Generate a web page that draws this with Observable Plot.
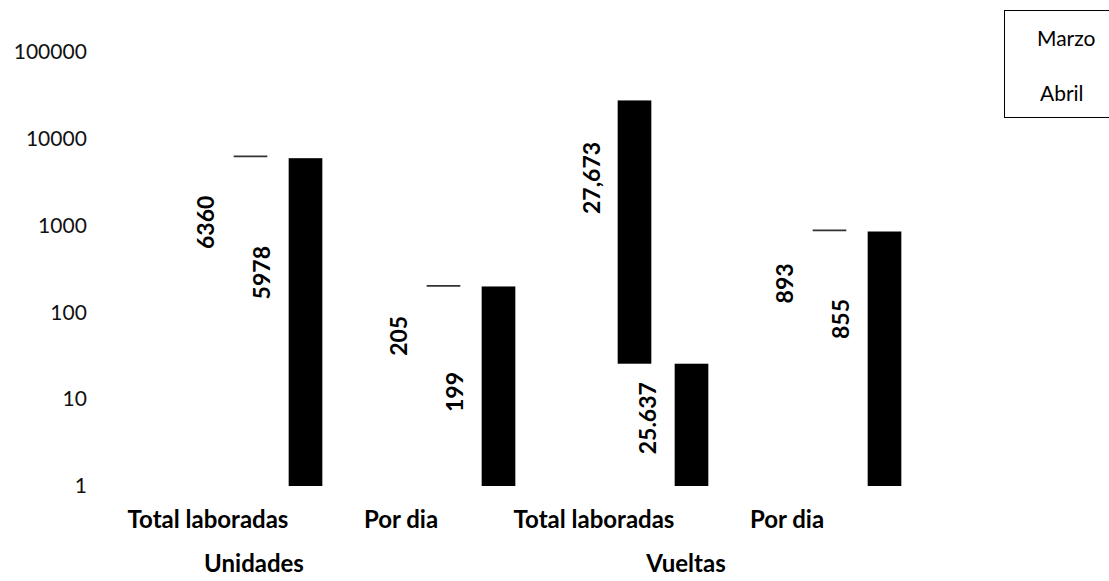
<!DOCTYPE html>
<html>
<head>
<meta charset="utf-8">
<script src="https://cdn.jsdelivr.net/npm/d3@7"></script>
<script src="https://cdn.jsdelivr.net/npm/@observablehq/plot@0.6"></script>
<style>
  html, body { margin: 0; padding: 0; background: #fff; }
  #wrap { position: relative; width: 1109px; height: 581px; overflow: hidden; font-family: Lato, "Open Sans", sans-serif; }
  #legend { position: absolute; left: 1004px; top: 10px; width: 130px; height: 108px;
            border: 1.5px solid #000; border-right: none; box-sizing: border-box; }
  #legend span { position: absolute; font-size: 21px; color: #000; line-height: 1; }
</style>
</head>
<body>
<div id="wrap">
  <div id="chart"></div>
  <div id="legend"><span id="lgM" style="left:32px;top:16px">Marzo</span><span id="lgA" style="left:35px;top:71px">Abril</span></div>
</div>
<script>
// ---- Data ----
const grupos = ["Unidades", "Unidades", "Vueltas", "Vueltas"];
const categorias = ["Total laboradas", "Por dia", "Total laboradas", "Por dia"];
const series = ["Marzo", "Abril"];
const marzo = [6360, 205, 27673, 893];
const abril = [5978, 199, 25.637, 855];
const etiquetasMarzo = ["6360", "205", "27,673", "893"];
const etiquetasAbril = ["5978", "199", "25.637", "855"];
const yTicks = [1, 10, 100, 1000, 10000, 100000];
// category where the Marzo bar appears filled in the scan (above the Abril value)
const marzoOscuro = ["Vueltas|Total laboradas"];

// ---- Layout / style ----
const FONT = "Lato, 'Open Sans', sans-serif";
const barW = 34;
const dxMarzo = 43, dxAbril = 98;
const labelDxMarzo = -1, labelDxAbril = 55;
const labelDyMarzo = [66, 50, 77, 53];
const labelDyAbril = [114, 105, 54, 87];

const keys = categorias.map((c, i) => `${grupos[i]}|${c}`);
const filasMarzo = keys.map((k, i) => ({key: k, valor: marzo[i], etiqueta: etiquetasMarzo[i], abril: abril[i]}));
const filasAbril = keys.map((k, i) => ({key: k, valor: abril[i], etiqueta: etiquetasAbril[i]}));
const grupoLabels = Array.from(new Set(grupos)).map(g => ({grupo: g, key: keys[grupos.indexOf(g)]}));

const W = 1109, H = 581;
const bandStart = 110.33, bandEnd = 883.67;
const bandW = (bandEnd - bandStart) / keys.length;
const inset = (bandW - barW) / 2;

const labelMarks = [];
filasMarzo.forEach((d, i) => labelMarks.push(Plot.text([d], {
  x: "key", y: "valor", text: "etiqueta", rotate: -90, fontWeight: "bold", fontSize: 23,
  fill: "#000", dx: labelDxMarzo, dy: labelDyMarzo[i], lineAnchor: "middle", textAnchor: "middle"
})));
filasAbril.forEach((d, i) => labelMarks.push(Plot.text([d], {
  x: "key", y: "valor", text: "etiqueta", rotate: -90, fontWeight: "bold", fontSize: 23,
  fill: "#000", dx: labelDxAbril, dy: labelDyAbril[i], lineAnchor: "middle", textAnchor: "middle"
})));

const chart = Plot.plot({
  width: W,
  height: H,
  marginLeft: bandStart,
  marginRight: W - bandEnd,
  marginTop: 52,
  marginBottom: 95,
  style: {fontFamily: FONT, background: "#fff", overflow: "visible"},
  x: {type: "band", domain: keys, padding: 0, axis: null},
  y: {type: "log", domain: [1, 100000], axis: null},
  marks: [
    Plot.axisY({ticks: yTicks, tickFormat: d => String(d), tickSize: 0, tickPadding: 24,
      fontSize: 21, fill: "#111", textAnchor: "end", label: null}),
    Plot.axisX({tickFormat: d => d.split("|")[1], tickSize: 0, tickPadding: 24,
      fontSize: 24, fontWeight: "bold", fill: "#000", label: null}),
    // Marzo bars (white)
    Plot.rectY(filasMarzo, {x: "key", y1: 1, y2: "valor", fill: "#fff", insetLeft: inset, insetRight: inset, dx: dxMarzo}),
    Plot.rectY(filasMarzo.filter(d => marzoOscuro.includes(d.key)), {x: "key", y1: "abril", y2: "valor", fill: "#000",
      insetLeft: inset, insetRight: inset, dx: dxMarzo - 2}),
    Plot.tickY(filasMarzo.filter(d => !marzoOscuro.includes(d.key)), {x: "key", y: "valor", stroke: "#333", strokeWidth: 1.8,
      insetLeft: inset, insetRight: inset, dx: dxMarzo}),
    // Abril bars (black)
    Plot.rectY(filasAbril, {x: "key", y1: 1, y2: "valor", fill: "#000", insetLeft: inset, insetRight: inset, dx: dxAbril}),
    ...labelMarks,
    Plot.text(grupoLabels.filter(d => d.grupo === "Unidades"), {x: "key", text: "grupo", frameAnchor: "bottom",
      dy: 78, dx: 46, fontSize: 24, fontWeight: "bold", fill: "#000", lineAnchor: "middle"}),
    Plot.text(grupoLabels.filter(d => d.grupo === "Vueltas"), {x: "key", text: "grupo", frameAnchor: "bottom",
      dy: 78, dx: 92, fontSize: 24, fontWeight: "bold", fill: "#000", lineAnchor: "middle"})
  ]
});
document.getElementById("chart").appendChild(chart);
document.getElementById("lgM").textContent = series[0];
document.getElementById("lgA").textContent = series[1];
</script>
</body>
</html>
